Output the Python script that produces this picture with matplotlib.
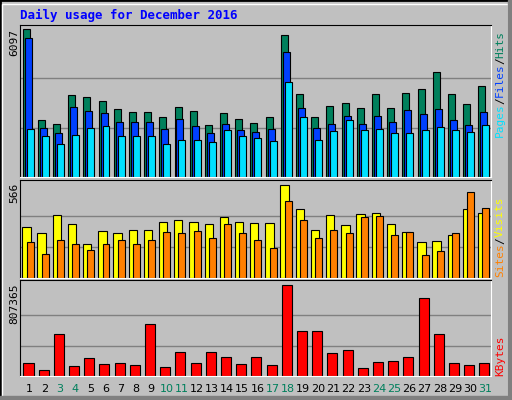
import numpy as np
import matplotlib
matplotlib.use('Agg')
import matplotlib.pyplot as plt
from matplotlib.patches import Rectangle

days = list(range(1, 32))
hits = [6097, 2331, 2165, 3365, 3282, 3117, 2786, 2662, 2662, 2455, 2869, 2703, 2124, 2620, 2372, 2207,
        2455, 5848, 3407, 2455, 2910, 3034, 2827, 3407, 2827, 3448, 3613, 4331, 3407, 2993, 3738]
files = [5724, 2000, 1793, 2869, 2703, 2620, 2248, 2248, 2248, 1958, 2372, 2082, 1793, 2165, 1917, 1834,
         1958, 5144, 2827, 2000, 2165, 2496, 2165, 2496, 2248, 2744, 2579, 2786, 2331, 2124, 2662]
pages = [1958, 1669, 1379, 1710, 2000, 2082, 1669, 1669, 1669, 1379, 1545, 1545, 1462, 1917, 1669, 1627,
         1503, 3903, 2455, 1545, 1876, 2331, 1917, 1958, 1793, 1793, 1917, 2041, 1917, 1834, 2124]
visits = [308, 271, 381, 326, 209, 289, 271, 295, 295, 338, 351, 338, 326, 369, 338, 332,
          332, 566, 418, 295, 381, 320, 387, 394, 326, 283, 221, 228, 264, 418, 394]
sites = [221, 148, 234, 209, 172, 209, 234, 209, 234, 277, 271, 289, 246, 326, 271, 234,
         185, 467, 351, 246, 295, 271, 369, 375, 264, 277, 141, 166, 271, 523, 424]
kbytes = [115000, 53000, 373000, 89000, 160000, 106000, 115000, 98000, 461000, 80000, 213000,
          115000, 213000, 169000, 106000, 169000, 98000, 807365, 399000, 399000, 204000, 231000,
          71000, 124000, 133000, 169000, 692000, 373000, 115000, 98000, 115000]
weekend = [3, 4, 10, 11, 17, 18, 24, 25, 31]

BG = '#c0c0c0'
W, H = 512, 400
fig = plt.figure(figsize=(5.12, 4.0), dpi=100, facecolor=BG)
mono = 'DejaVu Sans Mono'

# 3d frame
fig.patches.append(Rectangle((0, 0), 1, 1, transform=fig.transFigure, fill=False, ec='black', lw=2))
fig.patches.append(Rectangle((2/W, 2/H), 1-6/W, 1-6/H, transform=fig.transFigure, fill=False, ec='white', lw=1))
fig.patches.append(Rectangle((0, 0), 1, 4/H, transform=fig.transFigure, color='#808080'))
fig.patches.append(Rectangle((1-4/W, 0), 4/W, 1, transform=fig.transFigure, color='#808080'))

def panel(top, bottom):
    ax = fig.add_axes([20/W, 1-bottom/H, 471/W, (bottom-top)/H])
    ax.set_facecolor(BG)
    ax.set_xlim(0.5, 31.5)
    ax.set_xticks([])
    ax.set_yticks([])
    for s in ax.spines.values():
        s.set_color('black')
    ax.spines['right'].set_color('white')
    ax.spines['bottom'].set_color('white')
    return ax

x = np.array(days)
bw = 0.46

ax1 = panel(25, 177)
ax1.set_ylim(0, 6097*151/147)
for g in [6097/3, 6097*2/3]:
    ax1.axhline(g, color='#808080', lw=1, zorder=0)
ax1.bar(x-0.1, hits, bw, color='#00805c', ec='black', lw=0.8)
ax1.bar(x+0.03, files, bw, color='#0040ff', ec='black', lw=0.8)
ax1.bar(x+0.16, pages, bw, color='#00e0ff', ec='black', lw=0.8)
fig.text(14/W, 1-29/H, '6097', rotation=90, ha='center', va='top', family=mono, fontsize=8)

ax2 = panel(180, 278)
ax2.set_ylim(0, 566*98/93)
for g in [566/3, 566*2/3]:
    ax2.axhline(g, color='#808080', lw=1, zorder=0)
ax2.bar(x-0.08, visits, 0.55, color='#ffff00', ec='black', lw=0.8)
ax2.bar(x+0.16, sites, bw, color='#ff8000', ec='black', lw=0.8)
fig.text(14/W, 1-183/H, '566', rotation=90, ha='center', va='top', family=mono, fontsize=8)

ax3 = panel(280, 376)
ax3.set_ylim(0, 807365*96/91)
for g in [807365/3, 807365*2/3]:
    ax3.axhline(g, color='#808080', lw=1, zorder=0)
ax3.bar(x+0.06, kbytes, 0.66, color='#ff0000', ec='black', lw=0.8)
fig.text(14/W, 1-284/H, '807365', rotation=90, ha='center', va='top', family=mono, fontsize=8)

for d in days:
    fig.text((20 + (d-0.5)*471/31 + 2)/W, 1-389/H, str(d), ha='center', va='center', fontsize=8,
             color='#00805c' if d in weekend else 'black')

fig.text(20/W, 1-15/H, 'Daily usage for December 2016', color='#0000ff', family=mono,
         fontweight='bold', fontsize=9, va='center')

def vlabel(y_bottom, parts):
    y = y_bottom
    for txt, col in parts:
        t = fig.text(500/W, 1-y/H, txt, rotation=90, ha='center', va='bottom', color=col,
                     family=mono, fontsize=8)
        y -= len(txt) * 6.6

vlabel(137, [('Pages', '#00e0ff'), ('/', 'black'), ('Files', '#0040ff'), ('/', 'black'), ('Hits', '#00805c')])
vlabel(277, [('Sites', '#ff8000'), ('/', 'black'), ('Visits', '#ffff00')])
vlabel(376, [('KBytes', '#ff0000')])

fig.savefig('out.png', dpi=100, facecolor=BG)
